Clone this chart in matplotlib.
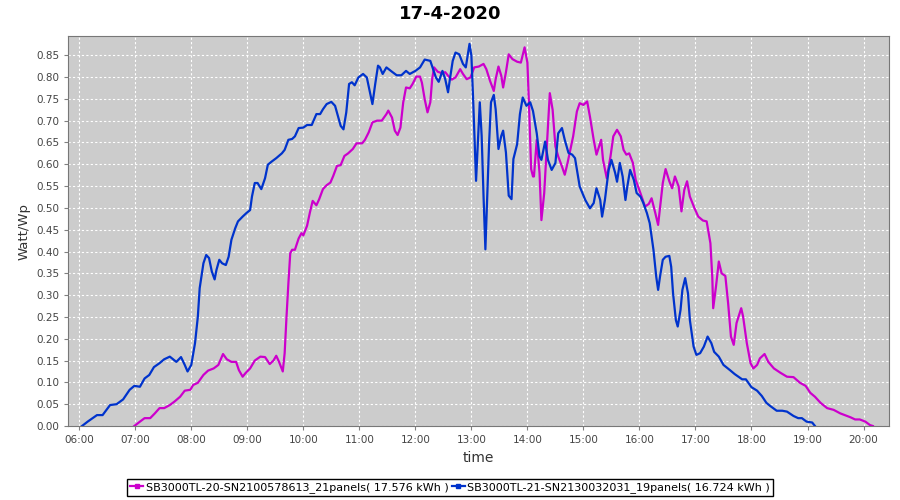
import matplotlib
matplotlib.use("Agg")
import matplotlib.pyplot as plt
import matplotlib.dates as mdates
from matplotlib.lines import Line2D
import pandas as pd

day = "2020-04-17"
title = "17-4-2020"
label_a = "SB3000TL-20-SN2100578613_21panels( 17.576 kWh )"
label_b = "SB3000TL-21-SN2130032031_19panels( 16.724 kWh )"

# SB3000TL-20 (magenta)
times_a = ["06:59", "07:05", "07:10", "07:16", "07:21", "07:26", "07:31", "07:37", "07:42", "07:48",
           "07:53", "07:59", "08:02", "08:07", "08:13", "08:18", "08:24", "08:29", "08:34", "08:38",
           "08:43", "08:48", "08:51", "08:55", "08:58", "09:03", "09:08", "09:14", "09:19", "09:24",
           "09:28", "09:31", "09:34", "09:38", "09:40", "09:42", "09:44", "09:46", "09:48", "09:51",
           "09:55", "09:58", "10:00", "10:04", "10:07", "10:10", "10:14", "10:17", "10:21", "10:25",
           "10:29", "10:32", "10:36", "10:40", "10:44", "10:48", "10:53", "10:57", "11:03", "11:06",
           "11:10", "11:14", "11:19", "11:24", "11:29", "11:31", "11:35", "11:38", "11:41", "11:44",
           "11:47", "11:50", "11:54", "11:57", "12:01", "12:05", "12:07", "12:10", "12:13", "12:16",
           "12:18", "12:20", "12:24", "12:28", "12:32", "12:35", "12:39", "12:43", "12:48", "12:51",
           "12:55", "12:59", "13:03", "13:08", "13:13", "13:16", "13:20", "13:24", "13:26", "13:29",
           "13:32", "13:34", "13:37", "13:40", "13:44", "13:49", "13:53", "13:57", "14:00", "14:02",
           "14:04", "14:06", "14:07", "14:10", "14:13", "14:15", "14:18", "14:21", "14:24", "14:27",
           "14:30", "14:33", "14:37", "14:40", "14:43", "14:46", "14:49", "14:53", "14:56", "15:00",
           "15:04", "15:07", "15:11", "15:14", "15:19", "15:21", "15:25", "15:29", "15:32", "15:36",
           "15:40", "15:43", "15:46", "15:49", "15:53", "15:56", "16:01", "16:06", "16:10", "16:13",
           "16:17", "16:20", "16:22", "16:25", "16:28", "16:32", "16:35", "16:38", "16:42", "16:45",
           "16:48", "16:51", "16:54", "16:59", "17:03", "17:08", "17:12", "17:16", "17:18", "17:19",
           "17:22", "17:25", "17:28", "17:32", "17:35", "17:38", "17:41", "17:44", "17:49", "17:51",
           "17:55", "17:59", "18:02", "18:06", "18:09", "18:14", "18:18", "18:24", "18:31", "18:38",
           "18:45", "18:52", "18:58", "19:03", "19:08", "19:14", "19:21", "19:28", "19:35", "19:40",
           "19:46", "19:51", "19:56", "20:02", "20:07", "20:10"]
values_a = [0.000, 0.010, 0.018, 0.018, 0.029, 0.041, 0.041, 0.048, 0.056, 0.067,
            0.081, 0.083, 0.094, 0.099, 0.117, 0.127, 0.132, 0.140, 0.165, 0.153,
            0.147, 0.147, 0.128, 0.113, 0.121, 0.132, 0.150, 0.159, 0.158, 0.142,
            0.150, 0.161, 0.147, 0.125, 0.167, 0.251, 0.327, 0.396, 0.404, 0.404,
            0.430, 0.442, 0.437, 0.459, 0.489, 0.516, 0.506, 0.520, 0.543, 0.552,
            0.558, 0.573, 0.596, 0.598, 0.619, 0.625, 0.635, 0.648, 0.648, 0.656,
            0.673, 0.696, 0.700, 0.700, 0.715, 0.723, 0.707, 0.677, 0.667, 0.684,
            0.742, 0.776, 0.774, 0.784, 0.801, 0.801, 0.787, 0.749, 0.719, 0.742,
            0.795, 0.822, 0.812, 0.809, 0.811, 0.803, 0.794, 0.799, 0.818, 0.807,
            0.795, 0.799, 0.822, 0.824, 0.830, 0.818, 0.791, 0.768, 0.795, 0.824,
            0.803, 0.776, 0.811, 0.852, 0.841, 0.835, 0.833, 0.868, 0.833, 0.719,
            0.589, 0.572, 0.572, 0.656, 0.580, 0.472, 0.534, 0.648, 0.763, 0.725,
            0.641, 0.618, 0.595, 0.576, 0.603, 0.633, 0.664, 0.721, 0.740, 0.736,
            0.744, 0.709, 0.656, 0.622, 0.656, 0.610, 0.568, 0.618, 0.664, 0.679,
            0.664, 0.633, 0.622, 0.625, 0.603, 0.564, 0.534, 0.503, 0.509, 0.522,
            0.488, 0.461, 0.499, 0.557, 0.589, 0.561, 0.545, 0.572, 0.549, 0.492,
            0.541, 0.561, 0.526, 0.499, 0.480, 0.471, 0.469, 0.419, 0.342, 0.270,
            0.320, 0.377, 0.350, 0.344, 0.281, 0.205, 0.186, 0.236, 0.270, 0.251,
            0.190, 0.144, 0.132, 0.140, 0.155, 0.165, 0.147, 0.132, 0.122, 0.113,
            0.112, 0.099, 0.092, 0.076, 0.067, 0.053, 0.041, 0.037, 0.029, 0.025,
            0.020, 0.015, 0.015, 0.010, 0.002, 0.000]

# SB3000TL-21 (blue)
times_b = ["06:03", "06:09", "06:19", "06:25", "06:33", "06:40", "06:47", "06:54", "06:59", "07:05",
           "07:10", "07:15", "07:20", "07:26", "07:31", "07:37", "07:44", "07:49", "07:53", "07:56",
           "08:00", "08:04", "08:07", "08:09", "08:13", "08:16", "08:19", "08:22", "08:25", "08:27",
           "08:30", "08:33", "08:37", "08:40", "08:43", "08:47", "08:50", "08:55", "08:59", "09:03",
           "09:05", "09:08", "09:11", "09:15", "09:19", "09:22", "09:26", "09:31", "09:37", "09:40",
           "09:44", "09:48", "09:51", "09:55", "10:00", "10:04", "10:09", "10:14", "10:18", "10:21",
           "10:25", "10:30", "10:34", "10:37", "10:40", "10:43", "10:46", "10:49", "10:52", "10:55",
           "10:59", "11:04", "11:08", "11:11", "11:14", "11:17", "11:20", "11:22", "11:25", "11:29",
           "11:35", "11:40", "11:45", "11:50", "11:54", "12:00", "12:05", "12:10", "12:16", "12:19",
           "12:22", "12:25", "12:29", "12:32", "12:35", "12:37", "12:40", "12:43", "12:47", "12:51",
           "12:54", "12:58", "13:00", "13:02", "13:05", "13:07", "13:09", "13:11", "13:13", "13:15",
           "13:16", "13:19", "13:21", "13:24", "13:26", "13:29", "13:32", "13:34", "13:37", "13:40",
           "13:43", "13:45", "13:49", "13:52", "13:55", "13:59", "14:03", "14:06", "14:10", "14:13",
           "14:15", "14:19", "14:22", "14:26", "14:30", "14:33", "14:37", "14:40", "14:44", "14:48",
           "14:51", "14:56", "15:02", "15:07", "15:11", "15:14", "15:18", "15:20", "15:23", "15:27",
           "15:30", "15:34", "15:36", "15:39", "15:42", "15:45", "15:47", "15:50", "15:54", "15:57",
           "16:01", "16:04", "16:08", "16:11", "16:12", "16:15", "16:18", "16:20", "16:22", "16:25",
           "16:28", "16:32", "16:34", "16:36", "16:39", "16:41", "16:44", "16:46", "16:49", "16:52",
           "16:54", "16:58", "17:01", "17:05", "17:09", "17:13", "17:17", "17:20", "17:25", "17:30",
           "17:37", "17:42", "17:50", "17:54", "18:00", "18:06", "18:11", "18:16", "18:20", "18:27",
           "18:33", "18:38", "18:45", "18:50", "18:54", "18:59", "19:05", "19:08"]
values_b = [0.000, 0.010, 0.025, 0.025, 0.048, 0.050, 0.061, 0.083, 0.092, 0.090,
            0.109, 0.117, 0.135, 0.144, 0.153, 0.159, 0.147, 0.158, 0.140, 0.125,
            0.140, 0.190, 0.250, 0.316, 0.373, 0.392, 0.385, 0.354, 0.336, 0.358,
            0.381, 0.373, 0.369, 0.388, 0.427, 0.453, 0.469, 0.480, 0.488, 0.495,
            0.526, 0.557, 0.557, 0.543, 0.568, 0.599, 0.606, 0.614, 0.625, 0.633,
            0.656, 0.658, 0.664, 0.683, 0.684, 0.690, 0.690, 0.715, 0.715, 0.726,
            0.738, 0.743, 0.734, 0.711, 0.688, 0.680, 0.719, 0.784, 0.788, 0.781,
            0.799, 0.807, 0.799, 0.768, 0.738, 0.784, 0.826, 0.822, 0.807, 0.822,
            0.812, 0.804, 0.804, 0.814, 0.807, 0.814, 0.822, 0.840, 0.837, 0.818,
            0.799, 0.789, 0.814, 0.795, 0.765, 0.795, 0.837, 0.856, 0.852, 0.830,
            0.822, 0.876, 0.849, 0.742, 0.562, 0.650, 0.742, 0.665, 0.528, 0.405,
            0.466, 0.650, 0.742, 0.759, 0.726, 0.635, 0.665, 0.677, 0.627, 0.528,
            0.520, 0.612, 0.646, 0.715, 0.753, 0.734, 0.742, 0.722, 0.671, 0.618,
            0.610, 0.652, 0.610, 0.587, 0.603, 0.671, 0.683, 0.656, 0.626, 0.622,
            0.614, 0.549, 0.518, 0.499, 0.511, 0.545, 0.518, 0.480, 0.518, 0.587,
            0.610, 0.580, 0.560, 0.603, 0.572, 0.518, 0.549, 0.587, 0.564, 0.534,
            0.526, 0.512, 0.488, 0.465, 0.450, 0.404, 0.342, 0.312, 0.342, 0.381,
            0.388, 0.390, 0.365, 0.304, 0.243, 0.228, 0.266, 0.312, 0.339, 0.304,
            0.243, 0.182, 0.163, 0.167, 0.182, 0.205, 0.190, 0.170, 0.159, 0.140,
            0.128, 0.119, 0.107, 0.107, 0.089, 0.081, 0.069, 0.053, 0.046, 0.035,
            0.035, 0.033, 0.023, 0.018, 0.018, 0.010, 0.008, 0.000]

y_ticks = [i * 0.05 for i in range(18)]

color_a = "#cc00cc"
color_b = "#0033cc"

xa = pd.to_datetime([day + " " + t for t in times_a])
xb = pd.to_datetime([day + " " + t for t in times_b])

fig = plt.figure(figsize=(9, 5), dpi=100)
ax = fig.add_axes([0.0756, 0.148, 0.9124, 0.78])
ax.set_facecolor("#cccccc")

ax.plot(xa, values_a, color=color_a, linewidth=1.6)
ax.plot(xb, values_b, color=color_b, linewidth=1.6)

ax.set_xlim(pd.Timestamp(day + " 05:48"), pd.Timestamp(day + " 20:27:30"))
ax.set_ylim(0, 0.894)
ax.set_yticks(y_ticks)
ax.set_yticklabels(["%.2f" % v for v in y_ticks])
ax.xaxis.set_major_locator(mdates.HourLocator())
ax.xaxis.set_major_formatter(mdates.DateFormatter("%H:%M"))

ax.grid(True, color="white", linestyle=(0, (2, 2)), linewidth=0.8)
ax.set_axisbelow(True)
for s in ax.spines.values():
    s.set_color("#777777")
ax.tick_params(colors="#808080", labelcolor="#444444", labelsize=7.5, length=3)

# title is centred on the whole figure, not the plot area
fig.text(0.5, 0.972, title, ha="center", va="center", fontsize=13, fontweight="bold")
ax.set_xlabel("time", fontsize=10, color="#333333")
ax.set_ylabel("Watt/Wp", fontsize=9.5, color="#333333")

handles = [Line2D([], [], color=color_a, linewidth=1.6, marker="s", markersize=2.5),
           Line2D([], [], color=color_b, linewidth=1.6, marker="s", markersize=2.5)]
leg = fig.legend(handles, [label_a, label_b], loc="center", bbox_to_anchor=(0.5, 0.025),
                 ncol=2, fontsize=8, fancybox=False, edgecolor="black", framealpha=1,
                 handlelength=1.2, handletextpad=0.2, columnspacing=0.3, borderpad=0.25)
leg.get_frame().set_linewidth(1.0)

fig.savefig("out.png", dpi=100)
